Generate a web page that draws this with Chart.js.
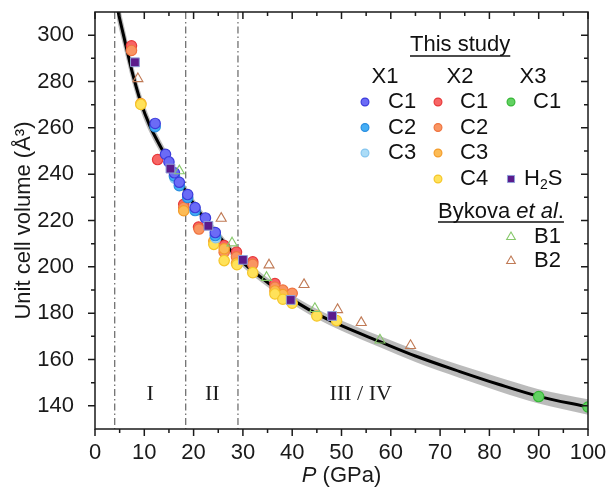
<!DOCTYPE html>
<html>
<head>
<meta charset="utf-8">
<script src="https://cdn.jsdelivr.net/npm/chart.js@4.4.1/dist/chart.umd.min.js"></script>
<style>
    html, body { margin: 0; padding: 0; background: #fff; }
</style>
</head>
<body>
<canvas id="eosChart" width="608" height="492"></canvas>
<script>
// ================= DATA =================
const xTicks = [0, 10, 20, 30, 40, 50, 60, 70, 80, 90, 100];
const xMinor = [5, 15, 25, 35, 45, 55, 65, 75, 85, 95];
const yTicks = [140, 160, 180, 200, 220, 240, 260, 280, 300];
const yMinor = [150, 170, 190, 210, 230, 250, 270, 290];

// fitted EOS curve
const fitP = [4.4, 4.73, 6, 7.5, 9.3, 11, 13, 14.3, 16.1, 18.8, 20.3, 22.5, 24.5, 28.7, 35.5, 41.6, 45, 50, 57.8, 65, 74, 82, 90, 100];
const fitV = [313, 309.7, 298, 284.5, 271, 261.5, 253, 248, 241, 231.2, 226.3, 220, 214.9, 204.4, 192.5, 183.8, 179.7, 174.6, 167.7, 161.5, 154.8, 149.2, 144.1, 139.5];
// half width of the grey confidence band (A^3)
const bandHalf = [5.5, 5.5, 5, 4.5, 3.8, 3.2, 2.8, 2.6, 2.4, 2.3, 2.2, 2.1, 2.0, 2.0, 2.0, 2.0, 2.1, 2.2, 2.4, 2.6, 2.8, 3.0, 3.1, 3.3];

// this study: [P (GPa), V (A^3)]
const x1c1 = [[12.2, 261.9], [14.3, 248.6], [15.0, 245.3], [16.1, 240.6], [17.1, 236.5], [18.8, 231.2], [20.3, 225.6], [22.4, 221.1], [24.4, 214.8]];
const x1c2 = [[12.2, 260.5], [16.1, 239.2], [17.1, 235.0], [18.8, 229.9], [20.3, 224.3], [24.4, 213.5]];
const x1c3 = [[16.2, 238.3], [24.5, 212.6]];
const x2c1 = [[7.4, 295.4], [12.7, 246.3], [18.0, 227.0], [21.0, 217.2], [26.2, 209.2], [28.7, 206.4], [32.0, 202.2], [36.5, 192.8]];
const x2c2 = [[7.4, 293.4], [18.0, 225.6], [21.1, 216.3], [26.2, 206.3], [28.7, 204.3], [32.0, 201.1], [36.5, 191.2], [38.1, 190.0], [40.0, 188.6]];
const x2c3 = [[9.3, 270.5], [18.0, 224.2], [24.1, 211.1], [26.2, 207.8], [28.7, 201.6], [36.5, 189.6], [38.1, 188.0]];
const x2c4 = [[9.3, 270.1], [24.1, 209.7], [26.2, 202.7], [28.8, 200.9], [32.0, 197.5], [36.5, 188.3], [38.1, 186.0], [40.0, 184.3], [45.0, 178.8], [49.0, 176.8]];
const x3c1 = [[90.0, 144.0], [100.0, 139.5]];
const h2s = [[8.1, 288.3], [15.3, 242.4], [23.0, 217.7], [30.0, 203.0], [39.7, 185.7], [48.1, 178.8]];

// Bykova et al.
const b1 = [[17.1, 241.4], [27.8, 210.3], [34.8, 195.4], [44.6, 182.0], [57.8, 168.4]];
const b2 = [[8.7, 281.2], [25.6, 220.9], [35.3, 200.8], [42.4, 192.3], [49.2, 181.5], [54.0, 175.9], [64.0, 166.0]];

// phase boundaries and region names
const boundaryP = [4, 18.4, 29];
const regionNames = ["I", "II", "III / IV"];
const regionP = [11.2, 23.8, 53.9];


// ================= HELPERS =================
const FONT = "'Liberation Sans', Arial, sans-serif";

function pts(list) {
    return list.map(d => ({ x: d[0], y: d[1] }));
}

function circleSet(label, data, fill, border, order) {
    return {
        label, data: pts(data), order,
        pointStyle: "circle", pointRadius: 5.2,
        backgroundColor: fill, borderColor: border, borderWidth: 1.2
    };
}

const fitLine = fitP.map((p, i) => ({ x: p, y: fitV[i] }));
const bandUp = fitP.map((p, i) => ({ x: p, y: fitV[i] + bandHalf[i] }));
const bandLow = fitP.map((p, i) => ({ x: p, y: fitV[i] - bandHalf[i] }));


// ================= DATASETS =================
const datasets = [
    { label: "band+", data: bandUp, showLine: true, pointRadius: 0, borderWidth: 0,
      borderColor: "rgba(0,0,0,0)", backgroundColor: "rgba(175,175,175,0.85)",
      fill: "+1", cubicInterpolationMode: "monotone", order: 14 },
    { label: "band-", data: bandLow, showLine: true, pointRadius: 0, borderWidth: 0,
      borderColor: "rgba(0,0,0,0)", fill: false, cubicInterpolationMode: "monotone", order: 14 },
    { label: "fit", data: fitLine, showLine: true, pointRadius: 0, borderWidth: 3,
      borderColor: "#000", fill: false, cubicInterpolationMode: "monotone", order: 12 },
    circleSet("X2 C1", x2c1, "#f76565", "#e83a3a", 11),
    circleSet("X2 C2", x2c2, "#f99562", "#ef7440", 10),
    circleSet("X2 C3", x2c3, "#fcbb55", "#f49d2c", 9),
    circleSet("X2 C4", x2c4, "#ffe25a", "#f5c62a", 8),
    circleSet("X1 C3", x1c3, "#abdcf7", "#86c6ef", 7),
    circleSet("X1 C2", x1c2, "#45aef5", "#2b8fe0", 6),
    circleSet("X1 C1", x1c1, "#6b6bf6", "#3c3cdc", 5),
    circleSet("X3 C1", x3c1, "#62d162", "#38b838", 4),
    { label: "B1", data: pts(b1), order: 3, pointStyle: "triangle", pointRadius: 5.8,
      backgroundColor: "rgba(0,0,0,0)", borderColor: "#86c86a", borderWidth: 1.1 },
    { label: "B2", data: pts(b2), order: 2, pointStyle: "triangle", pointRadius: 5.8,
      backgroundColor: "rgba(0,0,0,0)", borderColor: "#c07a55", borderWidth: 1.1 },
    { label: "H2S", data: pts(h2s), order: 1, pointStyle: "rect", pointRadius: 6.2,
      backgroundColor: "#5b1b8c", borderColor: "#8fa0d8", borderWidth: 1 }
];

function byLabel(label) {
    return datasets.find(d => d.label === label);
}


// ================= DECORATION PLUGIN =================
const decor = {
    id: "decor",

    beforeDatasetsDraw(chart) {
        const { ctx, chartArea: a, scales: { x, y } } = chart;
        ctx.save();
        // phase boundaries
        ctx.strokeStyle = "#666";
        ctx.lineWidth = 1.2;
        ctx.setLineDash([7, 3, 1.5, 3]);
        boundaryP.forEach(p => {
            const px = x.getPixelForValue(p);
            ctx.beginPath();
            ctx.moveTo(px, a.top);
            ctx.lineTo(px, a.bottom);
            ctx.stroke();
        });
        ctx.setLineDash([]);
        // region names
        ctx.fillStyle = "#1a1a1a";
        ctx.font = "22px 'Liberation Serif', 'Times New Roman', serif";
        ctx.textAlign = "center";
        ctx.textBaseline = "middle";
        regionNames.forEach((t, i) => {
            ctx.fillText(t, x.getPixelForValue(regionP[i]), y.getPixelForValue(145));
        });
        ctx.restore();
    },

    afterDraw(chart) {
        const { ctx, chartArea: a, scales: { x, y } } = chart;
        ctx.save();

        // frame and ticks
        ctx.strokeStyle = "#1a1a1a";
        ctx.lineWidth = 1.5;
        ctx.strokeRect(a.left, a.top, a.right - a.left, a.bottom - a.top);
        ctx.beginPath();
        const xt = (v, len) => {
            const px = x.getPixelForValue(v);
            ctx.moveTo(px, a.bottom); ctx.lineTo(px, a.bottom + len);
            ctx.moveTo(px, a.top); ctx.lineTo(px, a.top + len);
        };
        const yt = (v, len) => {
            const py = y.getPixelForValue(v);
            ctx.moveTo(a.left, py); ctx.lineTo(a.left - len, py);
            ctx.moveTo(a.right, py); ctx.lineTo(a.right - len, py);
        };
        xTicks.forEach(v => xt(v, 7));
        xMinor.forEach(v => xt(v, 4));
        yTicks.forEach(v => yt(v, 7));
        yMinor.forEach(v => yt(v, 4));
        ctx.stroke();

        // axis titles
        ctx.fillStyle = "#1a1a1a";
        ctx.textBaseline = "middle";
        ctx.textAlign = "left";
        ctx.font = "italic 22px " + FONT;
        const wP = ctx.measureText("P").width;
        ctx.font = "22px " + FONT;
        const wG = ctx.measureText(" (GPa)").width;
        const cx = (a.left + a.right) / 2;
        const tx = cx - (wP + wG) / 2;
        ctx.font = "italic 22px " + FONT;
        ctx.fillText("P", tx, 476);
        ctx.font = "22px " + FONT;
        ctx.fillText(" (GPa)", tx + wP, 476);

        ctx.save();
        ctx.translate(24, (a.top + a.bottom) / 2);
        ctx.rotate(-Math.PI / 2);
        ctx.textAlign = "center";
        ctx.fillText("Unit cell volume (\u00C5\u00B3)", 0, 0);
        ctx.restore();

        drawLegend(ctx);
        ctx.restore();
    }
};


// ================= LEGEND =================
function marker(ctx, ds, x, y, r) {
    ctx.fillStyle = ds.backgroundColor;
    ctx.strokeStyle = ds.borderColor;
    ctx.lineWidth = ds.borderWidth;
    Chart.helpers.drawPoint(ctx, { pointStyle: ds.pointStyle, radius: r, borderWidth: ds.borderWidth, rotation: 0 }, x, y);
}

function runs(ctx, parts, x, y) {
    parts.forEach(([txt, font, dy]) => {
        ctx.font = font;
        ctx.fillText(txt, x, y + (dy || 0));
        x += ctx.measureText(txt).width;
    });
    return x;
}

function drawLegend(ctx) {
    const rowY = [102, 127.5, 153, 179];
    const markX = [365, 438, 511];
    const textX = [388, 460, 533];
    const headX = [385, 460, 533];
    const norm = "22px " + FONT;

    ctx.textBaseline = "middle";
    ctx.textAlign = "left";
    ctx.fillStyle = "#111";
    ctx.strokeStyle = "#111";

    // This study
    let end = runs(ctx, [["This study", norm]], 410, 45);
    ctx.lineWidth = 1.4;
    ctx.beginPath(); ctx.moveTo(410, 56); ctx.lineTo(end, 56); ctx.stroke();

    ctx.textAlign = "center";
    ctx.font = norm;
    ["X1", "X2", "X3"].forEach((h, i) => ctx.fillText(h, headX[i], 77));
    ctx.textAlign = "left";

    const cols = [
        ["X1 C1", "X1 C2", "X1 C3"],
        ["X2 C1", "X2 C2", "X2 C3", "X2 C4"],
        ["X3 C1"]
    ];
    cols.forEach((col, c) => {
        col.forEach((lab, r) => {
            marker(ctx, byLabel(lab), markX[c], rowY[r], 3.9);
            ctx.fillStyle = "#111";
            ctx.font = norm;
            ctx.fillText(lab.split(" ")[1], textX[c], rowY[r]);
        });
    });

    // H2S
    marker(ctx, byLabel("H2S"), markX[2], rowY[3], 5);
    ctx.fillStyle = "#111";
    runs(ctx, [["H", norm], ["2", "14px " + FONT, 6], ["S", norm]], 524, rowY[3]);

    // Bykova et al.
    end = runs(ctx, [["Bykova ", norm], ["et al", "italic " + norm], [".", norm]], 438, 212);
    ctx.strokeStyle = "#111";
    ctx.lineWidth = 1.4;
    ctx.beginPath(); ctx.moveTo(438, 222); ctx.lineTo(end, 222); ctx.stroke();

    [["B1", 237], ["B2", 261]].forEach(([lab, yy]) => {
        marker(ctx, byLabel(lab), markX[2], yy, 5);
        ctx.fillStyle = "#111";
        ctx.font = norm;
        ctx.fillText(lab, 534, yy);
    });
}


// ================= CHART =================
new Chart(document.getElementById("eosChart"), {
    type: "scatter",
    data: { datasets },
    plugins: [decor],
    options: {
        responsive: false,
        animation: false,
        layout: { padding: { top: 12, right: 20, bottom: 0, left: 0 } },
        plugins: {
            legend: { display: false },
            tooltip: { enabled: false }
        },
        scales: {
            x: {
                type: "linear", min: 0, max: 100,
                afterBuildTicks: s => { s.ticks = xTicks.map(v => ({ value: v })); },
                afterFit: s => { s.height = 63; s.paddingLeft = 0; s.paddingRight = 0; },
                grid: { display: false },
                border: { display: false },
                ticks: { autoSkip: false, maxRotation: 0, padding: 3, color: "#1a1a1a", font: { size: 22, family: FONT } }
            },
            y: {
                type: "linear", min: 130, max: 310,
                afterBuildTicks: s => { s.ticks = yTicks.map(v => ({ value: v })); },
                afterFit: s => { s.width = 95; s.paddingTop = 0; s.paddingBottom = 0; },
                grid: { display: false },
                border: { display: false },
                ticks: { padding: 13, color: "#1a1a1a", font: { size: 22, family: FONT } }
            }
        }
    }
});
</script>
</body>
</html>
